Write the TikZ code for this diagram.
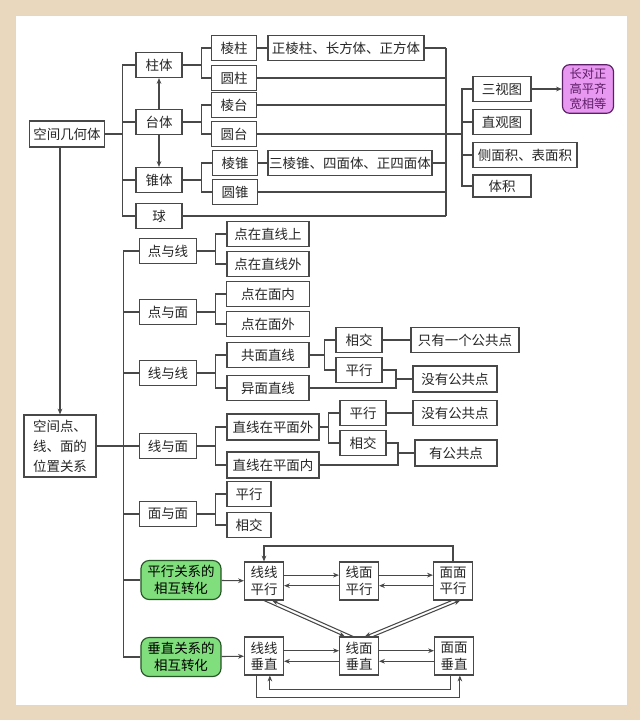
\documentclass[tikz,border=0pt]{standalone}
\usepackage{fontspec}
\setmainfont{Noto Sans CJK SC}
\usetikzlibrary{arrows.meta, calc}
\definecolor{mibai}{RGB}{234,216,190}
\definecolor{huise}{RGB}{72,72,72}
\definecolor{lvse}{RGB}{128,222,124}
\definecolor{lvbian}{RGB}{40,85,40}
\definecolor{zise}{RGB}{232,152,240}
\definecolor{zibian}{RGB}{92,30,102}

\begin{document}
\begin{tikzpicture}[
    x=0.03cm, y=-0.03cm,
    kuang/.style={
        draw=huise,
        line width=0.9pt,
        fill=white,
        text=black!85,
        font=\fontsize{11.5}{14}\selectfont,
        inner sep=1pt,
        minimum width=1.38cm,
        minimum height=0.75cm
    },
    zhuanhua/.style={
        kuang,
        align=center,
        minimum width=1.17cm,
        minimum height=1.14cm
    },
    lvkuang/.style={
        draw=lvbian,
        line width=1pt,
        fill=lvse,
        rounded corners=7pt,
        align=center,
        font=\fontsize{11.5}{14}\selectfont,
        minimum width=2.4cm,
        minimum height=1.17cm
    },
    zikuang/.style={
        draw=zibian,
        line width=1pt,
        fill=zise,
        rounded corners=6pt,
        align=center,
        text=zibian,
        font=\fontsize{10.5}{12.5}\selectfont,
        minimum width=1.53cm,
        minimum height=1.44cm
    },
    lian/.style={
        draw=huise,
        line width=0.9pt
    },
    jiantou/.style={
        lian,
        -{Stealth[length=5pt, width=4pt]}
    }
]

\fill[mibai] (0,0) rectangle (640,720);
\fill[white] (15,15) rectangle (627,705);
\draw[black!15] (15,15) rectangle (627,705);
\useasboundingbox (0,0) rectangle (640,720);

\node[kuang, minimum width=2.25cm, minimum height=0.78cm] (jihe) at (67,134) {空间几何体};

\node[kuang] (zhuti) at (159,65) {柱体};
\node[kuang] (taiti) at (159,122) {台体};
\node[kuang] (zhuiti) at (159,180) {锥体};
\node[kuang] (qiu) at (159,216) {球};

\node[kuang, minimum width=1.35cm] (lengzhu) at (234,48) {棱柱};
\node[kuang, minimum width=1.35cm] (yuanzhu) at (234,78) {圆柱};
\node[kuang, minimum width=1.35cm] (lengtai) at (234,105) {棱台};
\node[kuang, minimum width=1.35cm] (yuantai) at (234,134) {圆台};
\node[kuang, minimum width=1.35cm] (lengzhui) at (235,163) {棱锥};
\node[kuang, minimum width=1.35cm] (yuanzhui) at (235,192) {圆锥};

\node[kuang, minimum width=4.68cm] (zhengleng) at (346,48) {正棱柱、长方体、正方体};
\node[kuang, minimum width=4.89cm] (sanleng) at (350,163) {三棱锥、四面体、正四面体};

\node[kuang, minimum width=1.74cm] (sanshi) at (502,89) {三视图};
\node[kuang, minimum width=1.74cm] (zhiguan) at (502,122) {直观图};
\node[kuang, minimum width=3.12cm] (mianji) at (525,155) {侧面积、表面积};
\node[kuang, minimum width=1.74cm, minimum height=0.66cm] (tiji) at (502,186) {体积};
\node[zikuang] (guize) at (588,89) {长对正\\高平齐\\宽相等};

\coordinate (youshu) at (446,134);

\foreach \c in {zhuti,taiti,zhuiti,qiu}
    \draw[lian] (jihe.east) -- ++(17,0) |- (\c.west);
\foreach \c in {lengzhu,yuanzhu}
    \draw[lian] (zhuti.east) -- ++(19,0) |- (\c.west);
\foreach \c in {lengtai,yuantai}
    \draw[lian] (taiti.east) -- ++(19,0) |- (\c.west);
\foreach \c in {lengzhui,yuanzhui}
    \draw[lian] (zhuiti.east) -- ++(19,0) |- (\c.west);
\draw[lian] (lengzhu) -- (zhengleng);
\draw[lian] (lengzhui) -- (sanleng);
\draw[jiantou] (taiti) -- (zhuti);
\draw[jiantou] (taiti) -- (zhuiti);

\foreach \c in {zhengleng,yuanzhu,lengtai,yuantai,sanleng,yuanzhui,qiu}
    \draw[lian] (\c.east) -- (\c.east -| youshu);
\draw[lian] (zhengleng.east -| youshu) -- (qiu.east -| youshu);
\foreach \c in {sanshi,zhiguan,mianji,tiji}
    \draw[lian] (youshu) -- ++(16,0) |- (\c.west);
\draw[jiantou] (sanshi) -- (guize);

\node[kuang, align=left, minimum width=2.16cm, minimum height=1.86cm,
      font=\fontsize{11.5}{17}\selectfont] (weizhi) at (60,446)
{空间点、\\线、面的\\位置关系};
\draw[jiantou] (jihe.south -| weizhi.north) -- (weizhi.north);

\node[kuang, minimum width=1.71cm] (dianxian) at (168,251) {点与线};
\node[kuang, minimum width=1.71cm] (dianmian) at (168,312) {点与面};
\node[kuang, minimum width=1.71cm] (xianxian) at (168,373) {线与线};
\node[kuang, minimum width=1.71cm] (xianmian) at (168,446) {线与面};
\node[kuang, minimum width=1.71cm] (mianmian) at (168,514) {面与面};
\node[lvkuang] (pxzh) at (181,580) {平行关系的\\相互转化};
\node[lvkuang] (czzh) at (181,657) {垂直关系的\\相互转化};

\foreach \c in {dianxian,dianmian,xianxian,xianmian,mianmian,pxzh,czzh}
    \draw[lian] (weizhi.east) -- ++(27,0) |- (\c.west);

\node[kuang, minimum width=2.46cm] (zaixianshang) at (268,234) {点在直线上};
\node[kuang, minimum width=2.46cm] (zaixianwai) at (268,264) {点在直线外};
\node[kuang, minimum width=2.49cm] (zaimiannei) at (268,294) {点在面内};
\node[kuang, minimum width=2.49cm] (zaimianwai) at (268,324) {点在面外};
\node[kuang, minimum width=2.46cm] (gongmian) at (268,355) {共面直线};
\node[kuang, minimum width=2.46cm] (yimian) at (268,388) {异面直线};
\node[kuang, minimum width=2.76cm, minimum height=0.78cm] (pingmianwai) at (273,427) {直线在平面外};
\node[kuang, minimum width=2.76cm, minimum height=0.78cm] (pingmiannei) at (273,465) {直线在平面内};
\node[kuang, minimum width=1.32cm] (mmpingxing) at (249,494) {平行};
\node[kuang, minimum width=1.32cm] (mmxiangjiao) at (249,525) {相交};

\foreach \c in {zaixianshang,zaixianwai}
    \draw[lian] (dianxian.east) -- ++(18,0) |- (\c.west);
\foreach \c in {zaimiannei,zaimianwai}
    \draw[lian] (dianmian.east) -- ++(18,0) |- (\c.west);
\foreach \c in {gongmian,yimian}
    \draw[lian] (xianxian.east) -- ++(18,0) |- (\c.west);
\foreach \c in {pingmianwai,pingmiannei}
    \draw[lian] (xianmian.east) -- ++(18,0) |- (\c.west);
\foreach \c in {mmpingxing,mmxiangjiao}
    \draw[lian] (mianmian.east) -- ++(18,0) |- (\c.west);

\node[kuang] (gmxiangjiao) at (359,340) {相交};
\node[kuang] (gmpingxing) at (359,370) {平行};
\node[kuang, minimum width=3.24cm] (yigegong) at (465,340) {只有一个公共点};
\node[kuang, minimum width=2.52cm, minimum height=0.78cm] (meiyou1) at (455,379) {没有公共点};
\node[kuang] (pmxpingxing) at (363,413) {平行};
\node[kuang] (pmxxiangjiao) at (363,443) {相交};
\node[kuang, minimum width=2.52cm] (meiyou2) at (455,413) {没有公共点};
\node[kuang, minimum width=2.46cm, minimum height=0.78cm] (yougong) at (456,453) {有公共点};

\coordinate (hui1) at (396,379);
\coordinate (hui2) at (398,453);

\foreach \c in {gmxiangjiao,gmpingxing}
    \draw[lian] (gongmian.east) -- ++(15,0) |- (\c.west);
\draw[lian] (gmxiangjiao) -- (yigegong);
\draw[lian] (gmpingxing.east) -| (hui1) |- (yimian.east);
\draw[lian] (hui1) -- (meiyou1.west);
\foreach \c in {pmxpingxing,pmxxiangjiao}
    \draw[lian] (pingmianwai.east) -- ++(9,0) |- (\c.west);
\draw[lian] (pmxpingxing) -- (meiyou2);
\draw[lian] (pmxxiangjiao.east) -| (hui2) |- (pingmiannei.east);
\draw[lian] (hui2) -- (yougong.west);

\node[zhuanhua] (xxpx) at (264,581) {线线\\平行};
\node[zhuanhua] (xmpx) at (359,581) {线面\\平行};
\node[zhuanhua] (mmpx) at (453,581) {面面\\平行};
\node[zhuanhua] (xxcz) at (264,656) {线线\\垂直};
\node[zhuanhua] (xmcz) at (359,656) {线面\\垂直};
\node[zhuanhua] (mmcz) at (454,656) {面面\\垂直};

\coordinate (dinghui) at (453,546);

\draw[jiantou] (pxzh) -- (xxpx);
\draw[jiantou] (czzh) -- (xxcz);
\draw[jiantou] ([yshift=5pt]xxpx.east) -- ([yshift=5pt]xmpx.west);
\draw[jiantou] ([yshift=-4pt]xmpx.west) -- ([yshift=-4pt]xxpx.east);
\draw[jiantou] ([yshift=5pt]xmpx.east) -- ([yshift=5pt]mmpx.west);
\draw[jiantou] ([yshift=-4pt]mmpx.west) -- ([yshift=-4pt]xmpx.east);
\draw[jiantou] (mmpx.north) -- (dinghui) -| (xxpx.north);
\draw[jiantou] ([yshift=4.5pt]xxcz.east) -- ([yshift=4.5pt]xmcz.west);
\draw[jiantou] ([yshift=-4.5pt]xmcz.west) -- ([yshift=-4.5pt]xxcz.east);
\draw[jiantou] ([yshift=4.5pt]xmcz.east) -- ([yshift=4.5pt]mmcz.west);
\draw[jiantou] ([yshift=-4.5pt]mmcz.west) -- ([yshift=-4.5pt]xmcz.east);
\draw[jiantou] (xxpx.south) -- ([xshift=-12pt]xmcz.north);
\draw[jiantou] ([xshift=-5pt]xmcz.north) -- ([xshift=7pt]xxpx.south);
\draw[jiantou] ([xshift=-1pt]mmpx.south) -- ([xshift=5pt]xmcz.north);
\draw[jiantou] ([xshift=12pt]xmcz.north) -- ([xshift=6pt]mmpx.south);
\draw[jiantou] ([xshift=-6pt]xxcz.south) -- ++(0,22) -| ([xshift=5pt]mmcz.south);
\draw[jiantou] ([xshift=-3pt]mmcz.south) -- ++(0,14) -| ([xshift=5pt]xxcz.south);

\end{tikzpicture}
\end{document}
